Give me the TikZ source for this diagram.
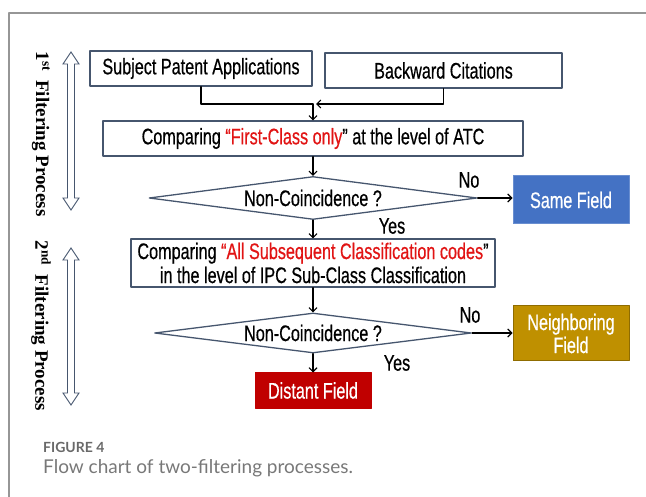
\documentclass[tikz,border=0pt]{standalone}
\usepackage{fontspec}
\usepackage{tikz}
\usetikzlibrary{shapes.geometric,arrows.meta}
\newfontfamily\boxfont[FakeStretch=0.72,FakeBold=0.5]{Liberation Sans}
\newfontfamily\sidefont{Liberation Serif}
\newfontfamily\capfont{Lato}
\definecolor{frameline}{RGB}{150,150,150}
\definecolor{boxline}{RGB}{70,86,110}
\definecolor{hlred}{RGB}{225,20,20}
\definecolor{samefill}{RGB}{68,114,196}
\definecolor{neighfill}{RGB}{191,144,0}
\definecolor{distfill}{RGB}{192,0,0}
\definecolor{capgray}{RGB}{105,105,105}
\tikzset{
	stepbox/.style={draw=boxline, line width=1.3pt, inner sep=0pt, align=center,
		font=\boxfont\fontsize{22.5}{24}\selectfont},
	test/.style={diamond, aspect=7.6, draw=boxline, line width=1.3pt, inner sep=0pt,
		font=\boxfont\fontsize{22.5}{24}\selectfont},
	result/.style={inner sep=0pt, line width=1pt, text=white, align=center,
		font=\boxfont\fontsize{22.5}{23}\selectfont},
	answer/.style={inner sep=0pt, font=\boxfont\fontsize{22.5}{24}\selectfont},
	flow/.style={->, line width=1.1pt},
	phase/.style={draw=boxline, line width=0.9pt, line join=miter},
	phaselbl/.style={rotate=-90, inner sep=0pt, font=\sidefont\bfseries\fontsize{19}{22}\selectfont}
}
\begin{document}
\begin{tikzpicture}[x=1pt, y=-1pt, >={Straight Barb[length=4pt,width=8pt]}, line join=round, line cap=round]
	\useasboundingbox (0,0) rectangle (646,497);
	\draw[frameline, line width=1.5pt, line cap=butt] (9,497)--(9,13)--(646,13);
	\node[stepbox, minimum width=222pt, minimum height=35pt] (sub) at (201,68.5) {Subject Patent Applications};
	\node[stepbox, minimum width=237pt, minimum height=35pt] (back) at (443.5,70.5) {Backward Citations};
	\node[stepbox, minimum width=420pt, minimum height=35pt] (atc) at (313,138.5)
		{Comparing {\color{hlred}“First-Class only}” at the level of ATC};
	\node[test, minimum width=328pt, minimum height=43pt] (dia1) at (313,198) {Non-Coincidence ?};
	\node[result, fill=samefill, draw=samefill!80!white, minimum width=116pt, minimum height=48pt] (same) at (571,200) {Same Field};
	\node[stepbox, minimum width=364pt, minimum height=48pt] (ipc) at (313,263)
		{Comparing {\color{hlred}“All Subsequent Classification codes}”\\in the level of IPC Sub-Class Classification};
	\node[test, minimum width=317pt, minimum height=40pt] (dia2) at (313,333) {Non-Coincidence ?};
	\node[result, fill=neighfill, draw=neighfill!75!black, minimum width=116pt, minimum height=55pt] (neigh) at (571,333.5) {Neighboring\\Field};
	\node[result, fill=distfill, draw=distfill, minimum width=116pt, minimum height=35pt] (dist) at (313,390.5) {Distant Field};
	\node[answer] (no1) at (469,180) {No};
	\node[answer] (yes1) at (392,226) {Yes};
	\node[answer] (no2) at (470,315) {No};
	\node[answer] (yes2) at (397,363) {Yes};
	\coordinate (join) at (313,104);
	\draw[flow, -] (sub.south)|-(join);
	\draw[flow] (back.south)|-([xshift=3pt]join);
	\draw[flow] (join)--(atc.north);
	\draw[flow] (atc.south)--(dia1.north);
	\draw[flow] (dia1.east)--(dia1.east-|same.west);
	\draw[flow] (dia1.south)--(ipc.north);
	\draw[flow] (ipc.south)--(dia2.north);
	\draw[flow] (dia2.east)--(dia2.east-|neigh.west);
	\draw[flow] (dia2.south)--(dist.north);
	\foreach \ya/\yb in {52/210,248/405}
	{\draw[phase] (71,\ya)--(79,\ya+12)--(74.5,\ya+12)--(74.5,\yb-12)--(79,\yb-12)--(71,\yb)
		--(63,\yb-12)--(67.5,\yb-12)--(67.5,\ya+12)--(63,\ya+12)--cycle;}
	\node[phaselbl] (lbl1) at (41,134) {1\textsuperscript{st}\hspace{9pt}Filtering Process};
	\node[phaselbl] (lbl2) at (41,326) {2\textsuperscript{nd}\hspace{9pt}Filtering Process};
	\node[anchor=west, inner sep=0pt, text=capgray, font=\capfont\bfseries\fontsize{14}{16}\selectfont] (fig) at (43,447) {FIGURE 4};
	\node[anchor=west, inner sep=0pt, text=capgray!90!white, font=\capfont\fontsize{19}{22}\selectfont] (cap) at (43,468) {Flow chart of two-filtering processes.};
\end{tikzpicture}
\end{document}
